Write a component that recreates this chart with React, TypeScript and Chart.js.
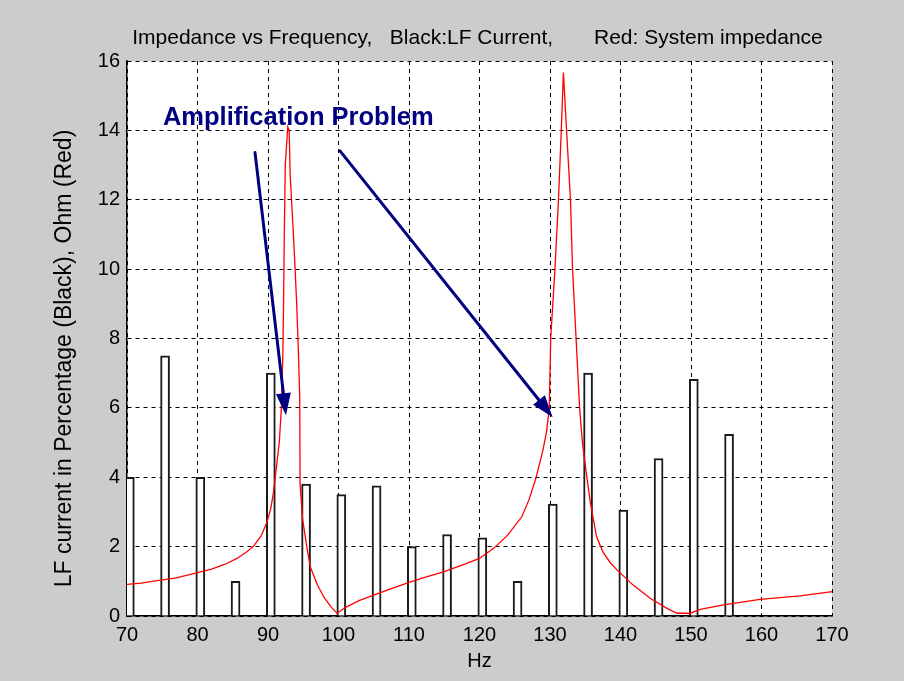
import React, { useEffect, useRef } from 'react';
import { Chart, registerables } from 'chart.js';

Chart.register(...registerables);

// ---- data ----
const barFreq = [70.4, 75.4, 80.4, 85.4, 90.4, 95.4, 100.4, 105.4, 110.4, 115.4, 120.4, 125.4, 130.4, 135.4, 140.4, 145.4, 150.4, 155.4];
const barCurrent = [4.0, 7.5, 4.0, 1.0, 7.0, 3.8, 3.5, 3.75, 2.0, 2.35, 2.25, 1.0, 3.23, 7.0, 3.05, 4.54, 6.82, 5.24];

const impFreq = [70, 72, 75, 77, 80, 82, 84, 85.6, 87, 87.9, 89, 89.8, 90.4, 90.75, 91.2, 91.6, 91.9, 92.1, 92.2, 92.3, 92.45, 92.8, 93.0, 93.15, 93.5, 93.8, 94.07, 94.3, 94.5, 94.55, 94.9, 95.5, 96, 97, 98, 99, 99.8, 101, 103, 105, 107, 110, 112, 115, 118, 120, 122, 124, 126, 127, 128, 129, 129.5, 129.9, 130.1, 130.7, 131.2, 131.6, 131.9, 132.35, 132.9, 133.2, 133.7, 134.2, 134.6, 135.0, 135.7, 136.6, 137.5, 138.5, 139.5, 141.8, 144.2, 146.6, 148, 149.9, 151.3, 154.6, 159.8, 165.5, 170];
const impOhm = [0.91, 0.95, 1.04, 1.1, 1.25, 1.35, 1.5, 1.66, 1.85, 2.0, 2.3, 2.67, 3.1, 3.53, 4.3, 5.0, 6.0, 7.5, 8.9, 10.8, 13.0, 14.1, 14.0, 12.7, 11.4, 10.2, 9.0, 7.7, 6.3, 3.8, 2.8, 2.0, 1.42, 0.9, 0.52, 0.25, 0.08, 0.25, 0.45, 0.6, 0.75, 0.97, 1.1, 1.28, 1.5, 1.66, 1.95, 2.33, 2.86, 3.34, 3.97, 4.78, 5.3, 6.0, 8.0, 10.0, 12.0, 14.0, 15.67, 14.0, 12.0, 10.0, 8.0, 6.0, 5.0, 4.35, 3.3, 2.29, 1.85, 1.55, 1.33, 0.89, 0.51, 0.22, 0.08, 0.08, 0.19, 0.32, 0.48, 0.58, 0.7];

const xRange = [70, 170];
const yRange = [0, 16];
const xStep = 10;
const yStep = 2;

const titleText = 'Impedance vs Frequency,   Black:LF Current,       Red: System impedance';
const yLabel = 'LF current in Percentage (Black), Ohm (Red)';
const xLabel = 'Hz';

const noteText = 'Amplification Problem';
const notePos = [75.1, 14.15];
const arrowFrom = [[88.16, 13.36], [100.21, 13.41]];
const arrowTo = [[92.55, 5.79], [130.38, 5.73]];

// ---- styles ----
const SANS = '"Liberation Sans", Arial, sans-serif';
const FIG_BG = '#cccccc';
const NAVY = '#000080';

const decorPlugin = {
  id: 'decor',
  beforeDraw(chart: any) {
    const { ctx, chartArea: a } = chart;
    ctx.save();
    ctx.fillStyle = FIG_BG;
    ctx.fillRect(0, 0, chart.width, chart.height);
    ctx.fillStyle = '#ffffff';
    ctx.fillRect(a.left, a.top, a.right - a.left, a.bottom - a.top);
    ctx.restore();
  },
  afterDraw(chart: any) {
    const { ctx, chartArea: a, scales } = chart;
    const xs = scales.x;
    const ys = scales.y;
    ctx.save();
    // title
    ctx.fillStyle = '#000';
    ctx.font = `21px ${SANS}`;
    ctx.textAlign = 'center';
    ctx.textBaseline = 'middle';
    ctx.fillText(titleText, (a.left + a.right) / 2 - 2, a.top - 23);

    // y axis label
    ctx.save();
    ctx.translate(a.left - 62, (a.top + a.bottom) / 2 + 20);
    ctx.rotate(-Math.PI / 2);
    ctx.font = `23px ${SANS}`;
    ctx.textAlign = 'center';
    ctx.textBaseline = 'middle';
    ctx.fillText(yLabel, 0, 0);
    ctx.restore();

    // annotation text
    ctx.fillStyle = NAVY;
    ctx.font = `bold 25.5px ${SANS}`;
    ctx.textAlign = 'left';
    ctx.textBaseline = 'alphabetic';
    ctx.fillText(noteText, xs.getPixelForValue(notePos[0]), ys.getPixelForValue(notePos[1]));

    // arrows
    ctx.strokeStyle = NAVY;
    ctx.lineWidth = 3;
    ctx.lineCap = 'round';
    for (let i = 0; i < arrowFrom.length; i++) {
      const x1 = xs.getPixelForValue(arrowFrom[i][0]);
      const y1 = ys.getPixelForValue(arrowFrom[i][1]);
      const x2 = xs.getPixelForValue(arrowTo[i][0]);
      const y2 = ys.getPixelForValue(arrowTo[i][1]);
      const ang = Math.atan2(y2 - y1, x2 - x1);
      const hl = 22;
      const hw = 7.5;
      const bx = x2 - hl * Math.cos(ang);
      const by = y2 - hl * Math.sin(ang);
      ctx.beginPath();
      ctx.moveTo(x1, y1);
      ctx.lineTo(bx, by);
      ctx.stroke();
      ctx.beginPath();
      ctx.moveTo(x2, y2);
      ctx.lineTo(bx + hw * Math.sin(ang), by - hw * Math.cos(ang));
      ctx.lineTo(bx - hw * Math.sin(ang), by + hw * Math.cos(ang));
      ctx.closePath();
      ctx.fillStyle = NAVY;
      ctx.fill();
    }
    ctx.restore();
  },
};

export default function App() {
  const ref = useRef<HTMLCanvasElement | null>(null);

  useEffect(() => {
    document.body.style.margin = '0';
    const canvas = ref.current;
    if (!canvas) return;
    const chart = new Chart(canvas, {
      type: 'bar',
      data: {
        datasets: [
          {
            type: 'line',
            label: 'System impedance',
            data: impFreq.map((f, i) => ({ x: f, y: impOhm[i] })),
            borderColor: '#ff0000',
            borderWidth: 1.3,
            pointRadius: 0,
            tension: 0,
            fill: false,
            order: 1,
          } as any,
          {
            type: 'bar',
            label: 'LF Current',
            data: barFreq.map((f, i) => ({ x: f, y: barCurrent[i] })),
            backgroundColor: '#ffffff',
            borderColor: '#1a1a1a',
            borderWidth: 2,
            borderSkipped: 'start',
            barThickness: 9,
            order: 2,
          } as any,
        ],
      },
      options: {
        animation: false,
        responsive: false,
        layout: { padding: { top: 61, right: 72, left: 0, bottom: 0 } },
        plugins: {
          legend: { display: false },
          title: { display: false },
          tooltip: { enabled: false },
        },
        scales: {
          x: {
            type: 'linear',
            min: xRange[0],
            max: xRange[1],
            offset: false,
            afterFit: (s: any) => { s.height = 65; },
            ticks: {
              stepSize: xStep,
              color: '#000',
              font: { family: SANS, size: 20 },
              padding: 7,
              maxRotation: 0,
            },
            grid: { color: '#000', lineWidth: 1, drawTicks: false, offset: false },
            border: { display: true, color: '#000', width: 1.5, dash: [4, 4] },
            title: {
              display: true,
              text: xLabel,
              color: '#000',
              font: { family: SANS, size: 20 },
              padding: { top: 0, bottom: 8 },
            },
          },
          y: {
            type: 'linear',
            min: yRange[0],
            max: yRange[1],
            afterFit: (s: any) => { s.width = 127; },
            ticks: {
              stepSize: yStep,
              color: '#000',
              font: { family: SANS, size: 20 },
              padding: 7,
            },
            grid: { color: '#000', lineWidth: 1, drawTicks: false },
            border: { display: true, color: '#000', width: 1.5, dash: [4, 4] },
          },
        },
      },
      plugins: [decorPlugin],
    });
    return () => chart.destroy();
  }, []);

  return (
    <div style={{ width: 904, height: 681 }}>
      <canvas ref={ref} width={904} height={681} style={{ display: 'block' }} />
    </div>
  );
}
